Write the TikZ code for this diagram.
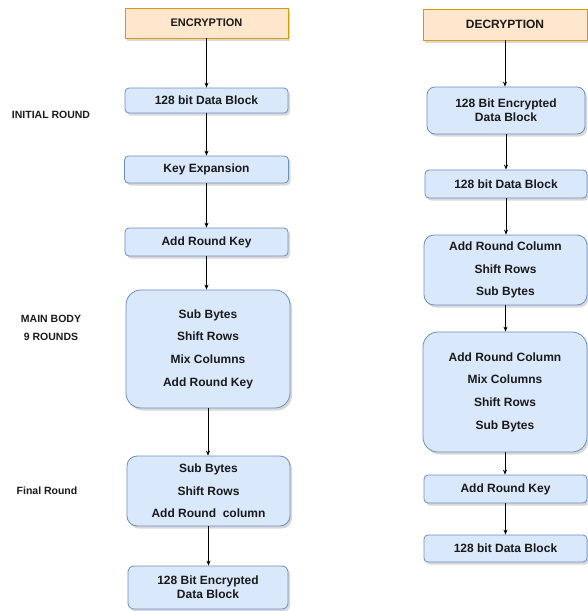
\documentclass[tikz,border=0pt]{standalone}
\usepackage{fontspec}
\setmainfont{Liberation Sans}
\usetikzlibrary{arrows.meta,shadows}
\definecolor{bfill}{HTML}{DAE8FC}
\definecolor{bdraw}{HTML}{6C8EBF}
\definecolor{ofill}{HTML}{FFE6CC}
\definecolor{odraw}{HTML}{D79B00}
\definecolor{txt}{HTML}{1A1A1A}
\begin{document}
\begin{tikzpicture}[x=1pt,y=-1pt,
  shad/.style={drop shadow={shadow xshift=2pt, shadow yshift=-2.5pt, opacity=0.22, fill=black!70}},
  box/.style={draw=bdraw, fill=bfill, line width=0.8pt, rounded corners=4pt, inner sep=0pt,
    align=center, text=txt, font=\bfseries\fontsize{12}{14}\selectfont, shad},
  midbox/.style={box, rounded corners=10pt, font=\bfseries\fontsize{12}{22.5}\selectfont},
  bigbox/.style={box, rounded corners=15pt, font=\bfseries\fontsize{12}{22.7}\selectfont},
  hdr/.style={draw=odraw, fill=ofill, line width=0.8pt, inner sep=0pt, text=txt,
    font=\bfseries\fontsize{11}{13}\selectfont, shad},
  lbl/.style={text=txt, inner sep=0pt, align=center, font=\bfseries\fontsize{10.5}{18}\selectfont},
  arr/.style={draw=black, line width=0.8pt, -{Stealth[length=5pt,width=4pt]}}
]
\useasboundingbox (0,0) rectangle (587,611);

% Encryption column
\node[hdr, minimum width=163pt, minimum height=30pt] (enc) at (206.5,23) {ENCRYPTION};
\node[box, minimum width=163pt, minimum height=25pt] (e1) at (206.5,100.5) {128 bit Data Block};
\node[box, minimum width=164pt, minimum height=27pt] (e2) at (206.5,169.5) {Key Expansion};
\node[box, minimum width=163pt, minimum height=28pt] (e3) at (206.5,242) {Add Round Key};
\node[bigbox, minimum width=164pt, minimum height=118pt] (e4) at (208,349) {Sub Bytes\\Shift Rows\\Mix Columns\\Add Round Key};
\node[midbox, minimum width=163pt, minimum height=70pt] (e5) at (208.5,491) {Sub Bytes\\Shift Rows\\Add Round\ \ column};
\node[box, rounded corners=6pt, minimum width=160pt, minimum height=43pt] (e6) at (208,587.5) {128 Bit Encrypted\\Data Block};

\draw[arr] (enc) -- (enc |- e1.north);
\draw[arr] (e1) -- (e1 |- e2.north);
\draw[arr] (e2) -- (e2 |- e3.north);
\draw[arr] (e3) -- (e3 |- e4.north);
\draw[arr] (e4) -- (e4 |- e5.north);
\draw[arr] (e5) -- (e5 |- e6.north);

% Left labels
\node[lbl] (l1) at (51,115) {INITIAL ROUND};
\node[lbl] (l2) at (51,327.5) {MAIN BODY\\9 ROUNDS};
\node[lbl] (l3) at (47,491) {Final Round};

% Decryption column
\node[hdr, font=\bfseries\fontsize{12}{14}\selectfont, minimum width=164pt, minimum height=31pt] (dec) at (505,24.5) {DECRYPTION};
\node[box, rounded corners=8pt, minimum width=158pt, minimum height=47pt] (d1) at (506,110.5) {128 Bit Encrypted\\Data Block};
\node[box, minimum width=162pt, minimum height=28pt] (d2) at (506,184) {128 bit Data Block};
\node[midbox, minimum width=163pt, minimum height=70pt] (d3) at (505.5,270) {Add Round Column\\Shift Rows\\Sub Bytes};
\node[bigbox, minimum width=164pt, minimum height=120pt] (d4) at (505,392) {Add Round Column\\Mix Columns\\Shift Rows\\Sub Bytes};
\node[box, minimum width=163pt, minimum height=28pt] (d5) at (505.5,489) {Add Round Key};
\node[box, minimum width=163pt, minimum height=27pt] (d6) at (505.5,548.5) {128 bit Data Block};

\draw[arr] (dec) -- (dec |- d1.north);
\draw[arr] (d1) -- (d1 |- d2.north);
\draw[arr] (d2) -- (d2 |- d3.north);
\draw[arr] (d3) -- (d3 |- d4.north);
\draw[arr] (d4) -- (d4 |- d5.north);
\draw[arr] (d5) -- (d5 |- d6.north);
\end{tikzpicture}
\end{document}
